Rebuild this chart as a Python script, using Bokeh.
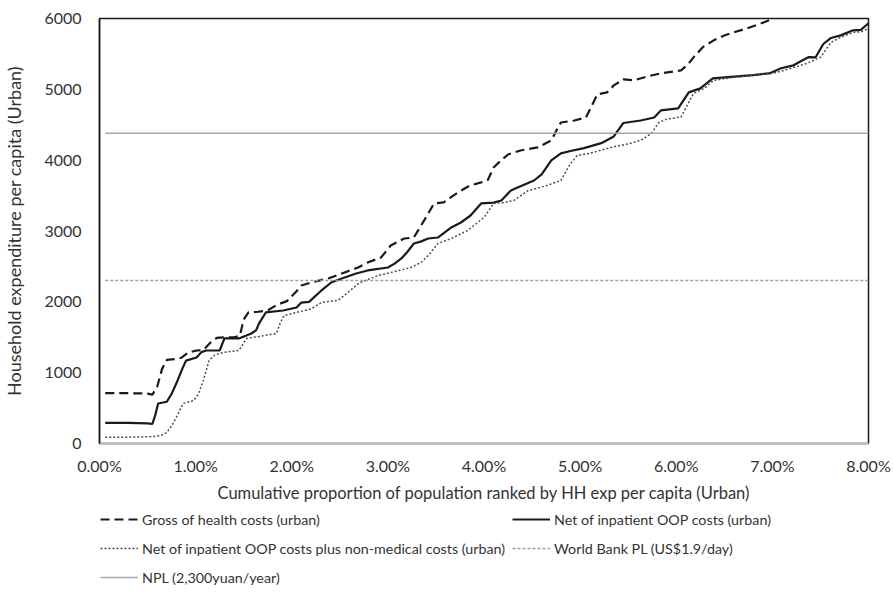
from bokeh.plotting import figure
from bokeh.layouts import column
from bokeh.models import (FixedTicker, PrintfTickFormatter, Legend, LegendItem,
                          Range1d)
from bokeh.embed import file_html
from bokeh.resources import INLINE

# ---- data (x in % of population, y in yuan) ----
gross_x = [0.06, 0.30, 0.50, 0.55, 0.60, 0.65, 0.70, 0.78, 0.85, 0.92, 1.00, 1.08,
           1.15, 1.22, 1.30, 1.40, 1.46, 1.50, 1.55, 1.65, 1.75, 1.85, 1.95, 2.05,
           2.10, 2.20, 2.38, 2.55, 2.69, 2.79, 2.93, 3.03, 3.17, 3.27, 3.40, 3.48,
           3.58, 3.65, 3.73, 3.85, 3.97, 4.04, 4.10, 4.18, 4.25, 4.38, 4.56, 4.70,
           4.77, 4.80, 4.94, 5.06, 5.18, 5.28, 5.35, 5.45, 5.56, 5.70, 5.84, 6.05,
           6.12, 6.18, 6.28, 6.39, 6.50, 6.60, 6.77, 6.90, 7.01]
gross_y = [710, 710, 705, 690, 800, 1050, 1180, 1190, 1210, 1280, 1310, 1320,
           1420, 1490, 1500, 1500, 1520, 1750, 1850, 1860, 1880, 1960, 2010, 2150,
           2230, 2273, 2330, 2415, 2485, 2556, 2627, 2795, 2894, 2908, 3200, 3389,
           3403, 3470, 3544, 3640, 3686, 3720, 3897, 4000, 4080, 4137, 4180, 4279,
           4461, 4532, 4560, 4603, 4930, 4957, 5055, 5140, 5127, 5183, 5226, 5268,
           5350, 5452, 5600, 5692, 5760, 5805, 5876, 5940, 6000]

net_x = [0.06, 0.30, 0.50, 0.55, 0.58, 0.61, 0.70, 0.75, 0.80, 0.86, 0.90, 1.01,
         1.06, 1.11, 1.25, 1.30, 1.45, 1.58, 1.63, 1.66, 1.73, 1.91, 2.05, 2.10,
         2.18, 2.30, 2.41, 2.55, 2.67, 2.79, 3.00, 3.07, 3.14, 3.20, 3.27, 3.34,
         3.42, 3.52, 3.66, 3.76, 3.86, 3.97, 4.10, 4.18, 4.28, 4.35, 4.52, 4.60,
         4.70, 4.80, 4.90, 5.04, 5.22, 5.35, 5.45, 5.63, 5.77, 5.84, 6.02, 6.13,
         6.25, 6.38, 6.57, 6.80, 6.98, 7.09, 7.22, 7.30, 7.38, 7.45, 7.53, 7.61,
         7.71, 7.84, 7.92, 8.00]
net_y = [290, 290, 285, 275, 400, 565, 590, 700, 850, 1050, 1170, 1215,
         1290, 1313, 1313, 1483, 1483, 1553, 1600, 1695, 1850, 1878, 1920, 1990,
         2000, 2150, 2273, 2344, 2400, 2443, 2485, 2540, 2612, 2700, 2824, 2850,
         2894, 2908, 3050, 3120, 3219, 3389, 3400, 3431, 3572, 3615, 3713, 3800,
         3996, 4095, 4130, 4170, 4240, 4335, 4525, 4560, 4603, 4702, 4730, 4957,
         5013, 5155, 5175, 5200, 5230, 5297, 5339, 5400, 5455, 5452, 5640, 5725,
         5762, 5833, 5840, 5932]

nonmed_x = [0.06, 0.30, 0.50, 0.59, 0.65, 0.70, 0.75, 0.80, 0.87, 0.98, 1.03, 1.08,
            1.14, 1.20, 1.29, 1.45, 1.53, 1.66, 1.84, 1.88, 1.92, 2.05, 2.20, 2.31,
            2.48, 2.60, 2.70, 2.90, 3.05, 3.24, 3.35, 3.42, 3.52, 3.66, 3.83, 4.00,
            4.10, 4.20, 4.31, 4.46, 4.65, 4.80, 4.90, 4.97, 5.11, 5.32, 5.50, 5.63,
            5.74, 5.82, 5.90, 6.05, 6.18, 6.29, 6.39, 6.60, 6.80, 7.01, 7.12, 7.25,
            7.36, 7.50, 7.61, 7.71, 7.84, 7.92, 8.00]
nonmed_y = [90, 90, 95, 100, 120, 155, 250, 370, 565, 607, 700, 890,
            1172, 1250, 1285, 1313, 1483, 1511, 1553, 1700, 1807, 1850, 1900, 1990,
            2019, 2150, 2265, 2372, 2420, 2485, 2560, 2654, 2824, 2894, 3007, 3191,
            3389, 3400, 3431, 3572, 3640, 3713, 3953, 4066, 4100, 4180, 4230, 4279,
            4377, 4532, 4580, 4610, 4942, 5013, 5127, 5169, 5200, 5226, 5268, 5320,
            5367, 5452, 5663, 5734, 5805, 5810, 5861]

line_x = [0.06, 8.00]
wb_pl = [2300, 2300]
npl = [4380, 4380]

x_ticks = [0, 1, 2, 3, 4, 5, 6, 7, 8]
y_ticks = [0, 1000, 2000, 3000, 4000, 5000, 6000]

labels = ["Gross of health costs (urban)",
          "Net of inpatient OOP costs (urban)",
          "Net of inpatient OOP costs plus non-medical costs (urban)",
          "World Bank PL (US$1.9/day)",
          "NPL (2,300yuan/year)"]

FONT = "Lato"
TXT = "#333333"

series = [(gross_x, gross_y), (net_x, net_y), (nonmed_x, nonmed_y),
          (line_x, wb_pl), (line_x, npl)]
styles = [dict(line_color="#1a1a1a", line_width=2.2, line_dash="9 5"),
          dict(line_color="#1a1a1a", line_width=2.2),
          dict(line_color="#4d4d4d", line_width=1.5, line_dash="2 2"),
          dict(line_color="#a0a0a0", line_width=1.5, line_dash="3 2"),
          dict(line_color="#a6a6a6", line_width=1.5)]

p = figure(width=893, height=507, output_backend="svg",
           toolbar_location=None, x_range=Range1d(0, 8), y_range=Range1d(0, 6000),
           min_border_left=98, min_border_right=25, min_border_top=18,
           min_border_bottom=64)
p.background_fill_color = "white"
p.border_fill_color = "white"
p.outline_line_color = "#1a1a1a"
p.outline_line_width = 1.5
p.xgrid.visible = False
p.ygrid.visible = False

for (sx, sy), st in zip(series, styles):
    p.line(sx, sy, **st)

for ax in (p.xaxis[0], p.yaxis[0]):
    ax.major_tick_line_color = None
    ax.minor_tick_line_color = None
    ax.major_label_text_font = FONT
    ax.major_label_text_font_size = "16px"
    ax.major_label_text_color = TXT
    ax.axis_label_text_font = FONT
    ax.axis_label_text_font_style = "normal"
    ax.axis_label_text_color = TXT

p.xaxis.ticker = FixedTicker(ticks=x_ticks)
p.xaxis.formatter = PrintfTickFormatter(format="%.2f%%")
p.xaxis.axis_line_color = "#bfbfbf"
p.xaxis.axis_line_width = 2
p.xaxis.major_label_standoff = 6
p.xaxis.axis_label = "Cumulative proportion of population ranked by HH exp per capita (Urban)"
p.xaxis.axis_label_text_font_size = "16.5px"
p.xaxis.axis_label_standoff = 5

p.yaxis.ticker = FixedTicker(ticks=y_ticks)
p.yaxis.axis_line_color = "#1a1a1a"
p.yaxis.axis_line_width = 1.5
p.yaxis.major_label_standoff = 12
p.yaxis.axis_label = "Household expenditure per capita (Urban)"
p.yaxis.axis_label_text_font_size = "18px"
p.yaxis.axis_label_standoff = 16

# ---- legend strip below the chart (series lie outside its ranges, only keys show) ----
q = figure(width=893, height=91, output_backend="svg", toolbar_location=None,
           x_range=Range1d(0, 1), y_range=Range1d(-1, 0),
           x_axis_location=None, y_axis_location=None,
           min_border_left=98, min_border_right=0, min_border_top=0,
           min_border_bottom=0)
q.outline_line_color = None
q.xgrid.visible = False
q.ygrid.visible = False
q.border_fill_color = "white"
legend_renderers = [q.line(sx, sy, **st) for (sx, sy), st in zip(series, styles)]

legend = Legend(items=[LegendItem(label=lab, renderers=[r])
                       for lab, r in zip(labels, legend_renderers)],
                orientation="horizontal", ncols=2, location="top_left")
legend.label_text_font = FONT
legend.label_text_font_size = "14.3px"
legend.label_text_color = TXT
legend.glyph_width = 38
legend.glyph_height = 22
legend.label_height = 22
legend.label_standoff = 4
legend.spacing = 7
legend.padding = 0
legend.margin = 1
legend.border_line_color = None
legend.background_fill_alpha = 0
q.add_layout(legend)

layout = column(p, q, spacing=0)
open("out.html", "w").write(file_html(layout, INLINE))
